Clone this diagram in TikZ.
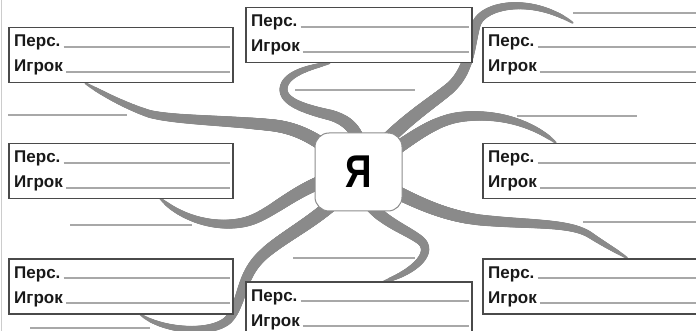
\documentclass[tikz,border=0pt]{standalone}
\usepackage{fontspec}
\usepackage{graphicx}
\newfontfamily\cardfont{Liberation Sans Bold}
\usetikzlibrary{positioning,backgrounds,decorations.markings}
\definecolor{tentGray}{HTML}{8A8A8A}
\definecolor{frameGray}{HTML}{4A4A4A}
\definecolor{lineGray}{HTML}{A8A8A8}

\tikzset{
  cardbox/.style={draw=frameGray,line width=1.5pt,fill=white,anchor=north west,
    minimum height=55pt,inner sep=0pt},
  rowtext/.style={font=\cardfont\fontsize{17}{20}\selectfont,text=black!90,
    anchor=base west,inner sep=0pt},
  writeline/.style={draw=lineGray,line width=1.2pt},
  mebox/.style={draw=black!45,line width=1pt,fill=white,rounded corners=14pt,
    minimum width=87pt,minimum height=78pt,
    font=\cardfont\fontsize{46}{46}\selectfont},
  tentacle/.style={decorate,decoration={markings,
    mark=between positions 0 and 1 step 0.6pt with {\fill[tentGray] (0,0)
      circle[radius={0.7pt+#1*sqrt(max(1-\pgfkeysvalueof{/pgf/decoration/mark info/distance from start}/\pgfdecoratedpathlength,0))}];}}}
}

% one card: name, top left corner, width
\newcommand\card[3]{%
  \node[cardbox,minimum width=#3] (#1) at (#2) {};
  \coordinate (#1-r) at ([xshift=-4pt]#1.east);
  \node[rowtext] (#1-p) at ([xshift=6pt,yshift=-20pt]#1.north west) {Перс.};
  \node[rowtext] (#1-i) at ([xshift=6pt,yshift=-45pt]#1.north west) {Игрок};
  \draw[writeline] ([xshift=3pt]#1-p.base east) -- (#1-p.base -| #1-r);
  \draw[writeline] ([xshift=3pt]#1-i.base east) -- (#1-i.base -| #1-r);
}

\begin{document}
\begin{tikzpicture}[x=1pt,y=-1pt]
  \useasboundingbox (0,0) rectangle (696,331);
  \draw[black!20,line width=0.8pt] (1,0) -- (1,331);
  % loose lines
  \foreach \xa/\xb/\yy in {295/415/90,573/700/13,8/127/115,70/192/225,
      517/637/116,583/700/222,30/150/328,293/415/258}
    \draw[writeline] (\xa,\yy) -- (\xb,\yy);
  % cards
  \card{tl}{8,27}{224pt}
  \card{tc}{245,7}{226pt}
  \card{tr}{482,27}{220pt}
  \card{ml}{8,143}{224pt}
  \card{mr}{482,143}{220pt}
  \card{bl}{8,258}{224pt}
  \card{bc}{245,281}{226pt}
  \card{br}{482,258}{220pt}
  \node[mebox] (me) at (358.5,172) {\scalebox{0.8}[1]{Я}};
  % tentacle ends
  \coordinate (tipTL) at (85,83);
  \coordinate (tipTC) at (330,63);
  \coordinate (tipTR) at (573,23);
  \coordinate (tipMR) at (556,143);
  \coordinate (tipML) at (160,198);
  \coordinate (tipBL) at (140,314);
  \coordinate (tipBC) at (383,282);
  \coordinate (tipBR) at (627,258);
  \begin{scope}[on background layer]
    \path[tentacle=6.5pt] (me.center) .. controls (320,140) and (300,128) .. (270,125)
      .. controls (220,120) and (175,120) .. (150,114)
      .. controls (125,106) and (100,92) .. (tipTL);
    \path[tentacle=6pt] (me.center) .. controls (365,140) and (355,122) .. (330,115)
      .. controls (300,108) and (280,100) .. (284,86)
      .. controls (288,72) and (315,66) .. (tipTC);
    \path[tentacle=6.5pt] (me.center) .. controls (395,125) and (430,105) .. (450,88)
      .. controls (470,70) and (470,45) .. (476,25)
      .. controls (482,5) and (530,-5) .. (tipTR);
    \path[tentacle=6.5pt] (me.center) .. controls (400,150) and (425,122) .. (460,117)
      .. controls (500,112) and (535,125) .. (tipMR);
    \path[tentacle=6.5pt] (me.center) .. controls (300,180) and (275,215) .. (245,222)
      .. controls (215,229) and (180,218) .. (tipML);
    \path[tentacle=6.5pt] (me.center) .. controls (335,215) and (280,235) .. (258,260)
      .. controls (240,280) and (242,305) .. (228,320)
      .. controls (210,336) and (160,330) .. (tipBL);
    \path[tentacle=6pt] (me.center) .. controls (360,215) and (400,225) .. (420,240)
      .. controls (435,252) and (415,272) .. (tipBC);
    \path[tentacle=6.5pt] (me.center) .. controls (410,200) and (440,215) .. (480,220)
      .. controls (530,225) and (570,222) .. (590,235)
      .. controls (605,245) and (618,252) .. (tipBR);
  \end{scope}
\end{tikzpicture}
\end{document}
